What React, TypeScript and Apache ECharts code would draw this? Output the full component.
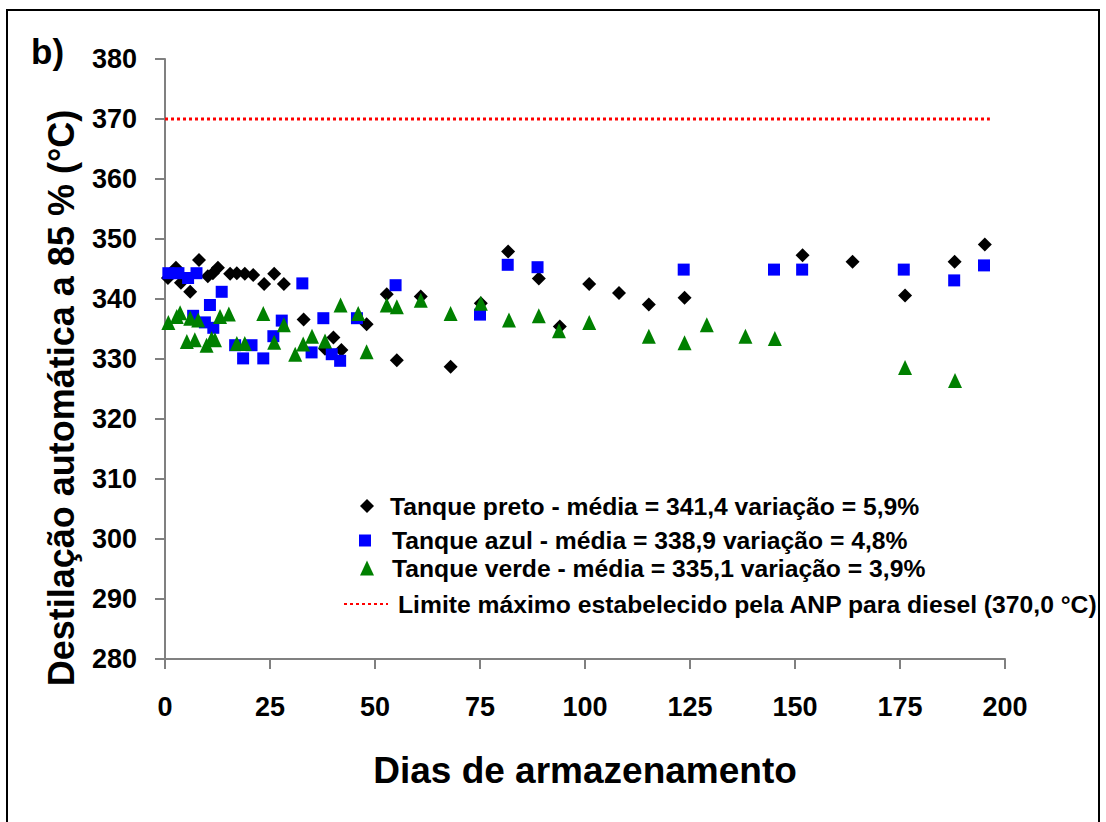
import React, { useEffect, useRef } from "react";
import * as echarts from "echarts";

const legendNames = [
  "Tanque preto - média = 341,4 variação = 5,9%",
  "Tanque azul - média = 338,9 variação = 4,8%",
  "Tanque verde - média = 335,1 variação = 3,9%",
  "Limite máximo estabelecido pela ANP para diesel (370,0 °C)",
];

const pretoData: [number, number][] = [
  [0.7, 343.5], [2.6, 345.2], [3.8, 342.7], [6.0, 341.2], [8.1, 346.5],
  [10.2, 343.8], [11.4, 344.3], [12.6, 345.2], [15.5, 344.2], [17.1, 344.3],
  [19.0, 344.2], [21.0, 344.0], [23.6, 342.5], [26.0, 344.2], [28.3, 342.5],
  [33.0, 336.6], [38.1, 331.7], [40.1, 333.6], [42.0, 331.5], [48.0, 335.8],
  [52.8, 340.8], [55.2, 329.8], [60.9, 340.4], [68.0, 328.7], [75.2, 339.3],
  [81.7, 347.9], [89.0, 343.4], [94.0, 335.4], [101.0, 342.5], [108.1, 341.0],
  [115.2, 339.1], [123.7, 340.2], [151.8, 347.3], [163.7, 346.2], [176.2, 340.6],
  [188.0, 346.2], [195.2, 349.1],
];

const azulData: [number, number][] = [
  [0.8, 344.3], [3.2, 344.3], [5.5, 343.5], [7.5, 344.3], [6.7, 337.2],
  [9.5, 336.1], [10.7, 339.0], [11.5, 335.2], [13.5, 341.2], [16.7, 332.3],
  [18.6, 330.1], [20.6, 332.3], [23.4, 330.1], [25.8, 333.8], [27.8, 336.4],
  [32.7, 342.6], [34.9, 331.1], [37.7, 336.8], [39.7, 330.8], [41.7, 329.7],
  [45.7, 336.8], [54.9, 342.3], [75.0, 337.4], [81.6, 345.7], [88.7, 345.3],
  [123.5, 344.9], [145.0, 344.9], [151.7, 344.9], [175.9, 344.9], [187.9, 343.1],
  [195.0, 345.6],
];

const verdeData: [number, number][] = [
  [0.8, 336.1], [2.8, 337.1], [3.6, 337.7], [5.2, 332.9], [6.0, 336.8],
  [7.1, 333.2], [7.9, 336.5], [9.9, 332.3], [11.1, 333.4], [11.9, 333.2],
  [13.1, 337.1], [15.2, 337.5], [17.1, 332.6], [19.0, 332.6], [23.4, 337.6],
  [26.0, 332.8], [28.3, 335.7], [31.0, 330.8], [32.9, 332.5], [35.0, 333.8],
  [38.1, 333.0], [41.8, 339.0], [46.0, 337.6], [48.0, 331.2], [52.8, 339.0],
  [55.2, 338.7], [60.9, 339.8], [68.0, 337.6], [75.2, 339.3], [81.9, 336.5],
  [89.0, 337.2], [93.8, 334.7], [101.0, 336.1], [115.2, 333.8], [123.7, 332.7],
  [129.0, 335.7], [138.2, 333.8], [145.2, 333.4], [176.2, 328.6], [188.1, 326.4],
];

const limiteData: [number, number][] = [
  [0, 370],
  [196.4, 370],
];

const FONT = "'Liberation Sans', Arial, sans-serif";

export default function App() {
  const ref = useRef<HTMLDivElement>(null);
  useEffect(() => {
    if (!ref.current) return;
    const chart = echarts.init(ref.current, null, { renderer: "svg" });
    const axisLineStyle = { color: "#808080", width: 2 };
    const legendText = {
      fontFamily: FONT,
      fontWeight: "bold" as const,
      fontSize: 24.7,
      color: "#000",
    };
    chart.setOption({
      animation: false,
      backgroundColor: "#ffffff",
      textStyle: { fontFamily: FONT },
      grid: { left: 165, top: 59, right: 101, bottom: 163, containLabel: false },
      xAxis: {
        type: "value",
        min: 0,
        max: 200,
        interval: 25,
        name: "Dias de armazenamento",
        nameLocation: "middle",
        nameGap: 93,
        nameTextStyle: { fontFamily: FONT, fontWeight: "bold", fontSize: 37, color: "#000" },
        axisLine: { show: true, lineStyle: axisLineStyle },
        axisTick: { show: true, length: 10, lineStyle: axisLineStyle },
        axisLabel: { margin: 34, fontFamily: FONT, fontWeight: "bold", fontSize: 27, color: "#000" },
        splitLine: { show: false },
      },
      yAxis: {
        type: "value",
        min: 280,
        max: 380,
        interval: 10,
        name: "Destilação automática a 85 % (°C)",
        nameLocation: "middle",
        nameGap: 86,
        nameTextStyle: {
          fontFamily: FONT,
          fontWeight: "bold",
          fontSize: 36,
          color: "#000",
          padding: [0, 78, 0, 0],
        },
        axisLine: { show: true, lineStyle: axisLineStyle },
        axisTick: { show: true, length: 10, lineStyle: axisLineStyle },
        axisLabel: { margin: 28, fontFamily: FONT, fontWeight: "bold", fontSize: 27, color: "#000" },
        splitLine: { show: false },
      },
      legend: [
        {
          data: [legendNames[0]], left: 360, top: 493.5, padding: 0,
          itemWidth: 14, itemHeight: 14, textStyle: { ...legendText, padding: [0, 0, 0, 11] },
        },
        {
          data: [legendNames[1]], left: 359, top: 528, padding: 0,
          itemWidth: 12, itemHeight: 12, textStyle: { ...legendText, padding: [0, 0, 0, 16] },
        },
        {
          data: [legendNames[2]], left: 360, top: 555.5, padding: 0,
          itemWidth: 14, itemHeight: 15, textStyle: { ...legendText, padding: [0, 0, 0, 13] },
        },
        {
          data: [legendNames[3]], left: 343, top: 591.5, padding: 0,
          itemWidth: 44, itemHeight: 14,
          itemStyle: { color: "rgba(0,0,0,0)", opacity: 0, borderWidth: 0 },
          textStyle: { ...legendText, padding: [0, 0, 0, 5] },
        },
      ],
      graphic: [
        {
          type: "rect",
          shape: { x: 7, y: 10, width: 1092, height: 900 },
          style: { fill: "none", stroke: "#000", lineWidth: 2 },
          silent: true,
        },
        {
          type: "text",
          x: 31,
          y: 51,
          style: {
            text: "b)",
            fontFamily: FONT,
            fontWeight: "bold",
            fontSize: 35,
            fill: "#000",
            verticalAlign: "middle",
            align: "left",
          },
        },
      ],
      series: [
        {
          name: legendNames[0],
          type: "scatter",
          symbol: "diamond",
          symbolSize: 14,
          itemStyle: { color: "#000000", opacity: 1 },
          data: pretoData,
          z: 2,
        },
        {
          name: legendNames[1],
          type: "scatter",
          symbol: "rect",
          symbolSize: 12,
          itemStyle: { color: "#0000FF", opacity: 1 },
          data: azulData,
          z: 3,
        },
        {
          name: legendNames[2],
          type: "scatter",
          symbol: "triangle",
          symbolSize: [14, 15],
          itemStyle: { color: "#008000", opacity: 1 },
          data: verdeData,
          z: 4,
        },
        {
          name: legendNames[3],
          type: "line",
          symbol: "none",
          data: limiteData,
          lineStyle: { color: "#FF0000", width: 3, type: [3, 3] },
          itemStyle: { color: "#FF0000" },
          z: 1,
        },
      ],
    });
    return () => chart.dispose();
  }, []);
  return (
    <div
      ref={ref}
      style={{ position: "absolute", left: 0, top: 0, width: 1106, height: 822 }}
    />
  );
}
